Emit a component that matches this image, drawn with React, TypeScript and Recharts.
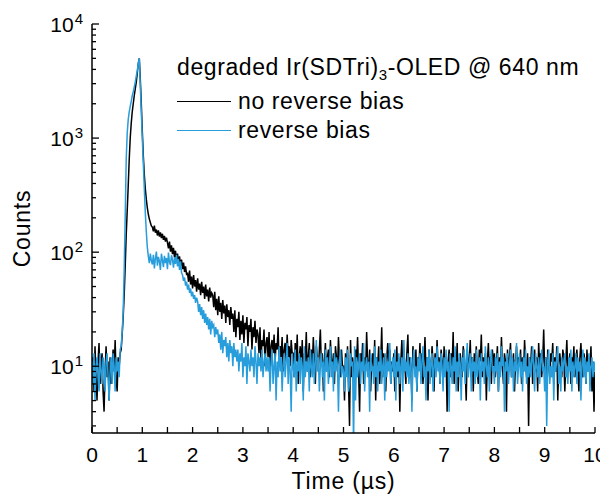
import React from 'react';
import { LineChart, Line, XAxis, YAxis, Legend, Label } from 'recharts';

const FONT = '"Liberation Sans", Arial, Helvetica, sans-serif';
const BLACK = '#000000';
const BLUE = '#289ddb';

// channel width of the decay traces, in µs
const STEP = 0.02;

// counts, no reverse bias (t = 0 ... 10 µs)
const noBias = [
  9, 12, 6, 15, 8, 5, 11, 16, 7, 10, 13, 6, 4, 9, 15, 8, 11, 5, 12, 7, 10, 14, 9, 17, 8, 6, 12, 10, 13,
  14, 19, 27, 42, 75, 140, 230, 380, 650, 1000, 1350, 1700, 2000, 2350, 2700, 3100, 3700, 4500, 5000, 3300,
  2000, 1150, 700, 480, 360, 290, 245, 215, 195, 182, 170,
  166, 152, 171, 148, 158, 140, 155, 137, 149, 133, 145, 128, 139, 124, 134,
  121, 108, 124, 101, 115, 96, 109, 90, 103, 85, 97, 80, 92, 76, 86, 71, 81, 67, 75, 64,
  65, 55, 69, 52, 61, 48, 63, 50, 57, 45, 59, 47, 53, 42, 55, 44, 50, 39, 52, 41, 47, 37, 49, 40, 44,
  42, 33, 45, 31, 39, 28, 41, 30, 36, 26, 38, 29, 34, 24, 35, 27, 31, 23, 33, 26,
  29, 20, 31, 18, 26, 22, 30, 17, 25, 19, 28, 16, 24, 21, 27, 15, 23, 20, 26, 14, 22, 18, 25, 16, 21,
  19, 13, 22, 11, 17, 15, 21, 10, 16, 18, 12, 20, 9, 15, 17, 13, 19, 11, 16, 14, 22, 10, 15, 12, 18,
  9, 14, 16, 11, 19, 12, 15, 10, 17, 13,
  13, 8, 16, 11, 19, 7, 12, 15, 10, 17, 6, 13, 11, 20, 9, 12, 16, 8, 14, 10,
  18, 11, 7, 15, 12, 9, 14, 21, 10, 13, 6, 11, 16, 9, 12, 14, 8, 17, 11, 10,
  13, 7, 15, 12, 9, 18, 11, 8, 14, 10,
  10, 5, 13, 9, 15, 7, 3, 17, 8, 12, 10, 6, 14, 11, 18, 9, 4, 13, 10, 16, 7, 12, 9, 20, 11,
  8, 14, 6, 11, 13, 9, 17, 5, 12, 10, 15, 7, 11, 22, 8, 13, 9, 6, 12, 16, 10, 14, 7, 11, 9,
  13, 6, 10, 15, 8, 12, 4, 11, 17, 9, 14, 10, 7, 13, 19, 8, 12, 10, 5, 15, 11, 9, 14, 6, 12,
  10, 16, 8, 13, 7, 11, 18, 9, 12, 5, 14, 10, 8, 15, 11, 6, 13, 9, 17, 10, 12, 7, 14, 11, 8,
  15, 9, 12, 4, 11, 14, 8, 13, 10, 20, 7, 12, 9, 16, 6, 11, 13, 10, 8, 15, 12, 9, 5, 14, 10,
  11, 17, 8, 12, 6, 13, 10, 15, 9, 7, 14, 11, 19, 8, 12, 10, 13, 5, 11, 16, 9, 12, 7, 14, 10,
  13, 8, 11, 15, 6, 12, 9, 18, 10, 7, 13, 11, 4, 14, 9, 12, 16, 8, 10, 13, 6, 11, 15, 9, 12,
  10, 14, 7, 12, 9, 17, 11, 8, 13, 3, 12, 10, 15, 7, 11, 14, 9, 12, 6, 16, 10, 13, 8, 11, 21,
  9, 12, 6, 14, 10, 8, 13, 11, 16, 7, 12, 9, 15, 5, 11, 13, 10, 8, 14, 12, 6, 11, 17, 9, 10,
  13, 7, 12, 10, 15, 8, 11, 14, 9, 6, 12, 16, 10, 8, 13, 11, 7, 14, 9, 12, 10, 15, 6, 11, 4,
  9,
];

// counts, reverse bias (t = 0 ... 10 µs)
const reverseBias = [
  11, 7, 13, 5, 10, 12, 8, 6, 13, 9, 7, 12, 10, 6, 11, 13, 8, 5, 9, 12, 7, 13, 10, 6, 12, 9, 11, 8, 14,
  15, 20, 30, 70, 200, 650, 1100, 1450, 1700, 1900, 2100, 2350, 2550, 2800, 3100, 3500, 3900, 4500, 5000, 2900,
  1700, 1000, 600, 360, 220, 150, 110, 92, 80, 97, 84,
  78, 95, 72, 88, 101, 76, 91, 83, 70, 97, 85, 74, 93, 80, 89, 71, 99, 82, 77, 94, 86, 73, 90, 79, 95,
  75, 87, 70, 83, 66,
  63, 56, 60, 51, 55, 47, 52, 44, 48, 41, 45, 39, 42, 36, 40,
  37, 30, 35, 28, 33, 26, 31, 24, 29, 23, 27, 21, 26, 19, 25, 22, 23, 18, 22, 19,
  21, 16, 19, 14, 20, 13, 17, 15, 18, 12, 16, 11, 17, 13, 15, 10, 16, 12, 14, 11,
  14, 9, 13, 11, 16, 8, 12, 10, 15, 7, 13, 11, 9, 14, 10, 12, 8, 15, 11, 7, 13, 10, 12, 9, 14,
  8, 11, 13, 9, 12,
  9, 12, 6, 11, 14, 7, 10, 13, 5, 11, 8, 15, 9, 12, 6, 10, 13, 8, 11, 16, 7, 12, 9, 4, 13,
  10, 8, 14, 6, 11, 9, 13, 7, 12, 10, 5, 15, 8, 11, 9, 12, 6, 14, 10, 8, 13, 7, 11, 17, 9,
  12, 6, 10, 13, 8, 11, 5, 14, 9, 12, 7, 10, 15, 8, 11, 6, 13, 9, 12, 10, 4, 11, 14, 8, 10,
  9, 6, 12, 8, 14, 6, 7, 13, 10, 11, 2, 15, 5, 12, 8, 10, 13, 7, 11, 9, 16, 6, 10, 12, 8,
  11, 4, 13, 9, 10, 7, 15, 8, 12, 6, 11, 9, 14, 7, 10, 12, 5, 13, 8, 11, 9, 16, 7, 10, 12,
  8, 14, 5, 11, 9, 13, 7, 10, 12, 6, 17, 9, 11, 8, 13, 7, 10, 12, 4, 11, 14, 8, 10, 6, 12,
  9, 13, 7, 11, 15, 8, 10, 5, 12, 9, 14, 7, 11, 13, 6, 10, 12, 8, 15, 9, 11, 7, 13, 10, 6,
  12, 8, 14, 9, 11, 4, 13, 10, 7, 12, 9, 15, 6, 11, 8, 13, 10, 5, 12, 9, 14, 7, 11, 16, 8,
  10, 13, 6, 12, 9, 11, 7, 14, 8, 10, 12, 5, 13, 9, 11, 7, 15, 10, 8, 12, 6, 11, 14, 9, 10,
  7, 12, 9, 13, 6, 11, 8, 15, 10, 12, 4, 11, 9, 13, 7, 10, 14, 8, 12, 6, 11, 9, 16, 7, 10,
  13, 8, 11, 6, 12, 9, 14, 7, 10, 8, 12, 8, 11, 15, 9, 6, 13, 10, 8, 12, 7, 11, 14, 9, 10,
  6, 12, 3, 11, 14, 7, 10, 8, 13, 5, 11, 9, 12, 15, 7, 10, 6, 12, 9, 11, 13, 8, 10, 7, 12,
  9, 14, 6, 11, 8, 10, 13, 7, 12, 9, 11, 5, 10, 14, 8, 12, 7, 11, 9, 13, 6, 10, 12, 8, 11,
  9,
];

const seriesNames = ['no reverse bias', 'reverse bias'];
const titleParts = ['degraded Ir(SDTri)', '3', '-OLED @ 640 nm'];

const xTicks = [0, 0.5, 1, 1.5, 2, 2.5, 3, 3.5, 4, 4.5, 5, 5.5, 6, 6.5, 7, 7.5, 8, 8.5, 9, 9.5, 10];
const yTicks = [
  3, 4, 5, 6, 7, 8, 9, 10, 20, 30, 40, 50, 60, 70, 80, 90, 100,
  200, 300, 400, 500, 600, 700, 800, 900, 1000,
  2000, 3000, 4000, 5000, 6000, 7000, 8000, 9000, 10000,
];
const yDecades = [10, 100, 1000, 10000];
const yExponents = ['1', '2', '3', '4'];

const data = noBias.map((v, i) => ({
  t: i * STEP,
  noBias: v,
  reverseBias: reverseBias[i],
}));

const TICK_W = 1.3;

const BottomTick = (props: any) => {
  const { x, y, payload } = props;
  const v = payload.value;
  return (
    <g>
      <line x1={x} y1={y} x2={x} y2={y - 6} stroke={BLACK} strokeWidth={TICK_W} />
      {Number.isInteger(v) && (
        <text x={x} y={y + 29} textAnchor="middle" fontSize={21} fontFamily={FONT} fill={BLACK}>
          {v}
        </text>
      )}
    </g>
  );
};

const TopTick = (props: any) => {
  const { x, y } = props;
  return <line x1={x} y1={y} x2={x} y2={y + 6} stroke={BLACK} strokeWidth={TICK_W} />;
};

const LeftTick = (props: any) => {
  const { x, y, payload } = props;
  const k = yDecades.indexOf(payload.value);
  const len = k >= 0 ? 7 : 4;
  return (
    <g>
      <line x1={x} y1={y} x2={x + len} y2={y} stroke={BLACK} strokeWidth={TICK_W} />
      {k >= 0 && (
        <text x={x - 9} y={y + 8} textAnchor="end" fontSize={21} fontFamily={FONT} fill={BLACK}>
          10
          <tspan dx={1} dy={-8} fontSize={15}>
            {yExponents[k]}
          </tspan>
        </text>
      )}
    </g>
  );
};

const RightTick = (props: any) => {
  const { x, y, payload } = props;
  const len = yDecades.includes(payload.value) ? 7 : 4;
  return <line x1={x} y1={y} x2={x - len} y2={y} stroke={BLACK} strokeWidth={TICK_W} />;
};

const LegendBox = (props: any) => {
  const items = props.payload || [];
  return (
    <div style={{ fontFamily: FONT, fontSize: 23, letterSpacing: 0.6, color: BLACK, textAlign: 'left' }}>
      <div style={{ height: 33, lineHeight: '29px', whiteSpace: 'nowrap' }}>
        {titleParts[0]}
        <span style={{ fontSize: 15, verticalAlign: -5 }}>{titleParts[1]}</span>
        {titleParts[2]}
      </div>
      {items.map((it: any, k: number) => (
        <div
          key={k}
          style={{
            height: k === 0 ? 30 : 29,
            lineHeight: '29px',
            display: 'flex',
            alignItems: 'center',
            whiteSpace: 'nowrap',
          }}
        >
          <span
            style={{
              display: 'inline-block',
              width: 54,
              height: 0,
              borderTop: `1.5px solid ${it.color}`,
              marginRight: 7,
            }}
          />
          {it.value}
        </div>
      ))}
    </div>
  );
};

const axisLine = { stroke: BLACK, strokeWidth: 1.5 };

export default function App() {
  return (
    <LineChart width={600} height={486} data={data} margin={{ top: 16, right: 13, bottom: 0, left: 0 }}>
      <XAxis
        xAxisId="bottom"
        dataKey="t"
        type="number"
        domain={[0, 10]}
        ticks={xTicks}
        interval={0}
        allowDataOverflow
        height={61}
        tickSize={0}
        tickMargin={0}
        tickLine={false}
        axisLine={axisLine}
        tick={(p: any) => <BottomTick {...p} />}
      >
        <Label
          content={(p: any) => {
            const vb = p.viewBox;
            return (
              <text
                x={vb.x + vb.width / 2}
                y={vb.y + 56}
                textAnchor="middle"
                fontSize={23}
                letterSpacing={0.8}
                fontFamily={FONT}
                fill={BLACK}
              >
                Time (µs)
              </text>
            );
          }}
        />
      </XAxis>
      <XAxis
        xAxisId="top"
        orientation="top"
        dataKey="t"
        type="number"
        domain={[0, 10]}
        ticks={xTicks}
        interval={0}
        allowDataOverflow
        height={0}
        tickSize={0}
        tickMargin={0}
        tickLine={false}
        axisLine={axisLine}
        tick={(p: any) => <TopTick {...p} />}
      />
      <YAxis
        yAxisId="left"
        type="number"
        scale="log"
        domain={[2.6, 10000]}
        ticks={yTicks}
        interval={0}
        allowDataOverflow
        width={84}
        tickSize={0}
        tickMargin={0}
        tickLine={false}
        axisLine={axisLine}
        tick={(p: any) => <LeftTick {...p} />}
      >
        <Label
          content={(p: any) => {
            const vb = p.viewBox;
            const cx = vb.x + 14;
            const cy = vb.y + vb.height / 2;
            return (
              <text
                x={cx}
                y={cy}
                transform={`rotate(-90, ${cx}, ${cy})`}
                textAnchor="middle"
                dominantBaseline="central"
                fontSize={23}
                letterSpacing={0.8}
                fontFamily={FONT}
                fill={BLACK}
              >
                Counts
              </text>
            );
          }}
        />
      </YAxis>
      <YAxis
        yAxisId="right"
        orientation="right"
        type="number"
        scale="log"
        domain={[2.6, 10000]}
        ticks={yTicks}
        interval={0}
        allowDataOverflow
        width={0}
        tickSize={0}
        tickMargin={0}
        tickLine={false}
        axisLine={axisLine}
        tick={(p: any) => <RightTick {...p} />}
      />
      <Legend
        layout="vertical"
        align="center"
        verticalAlign="middle"
        content={(p: any) => <LegendBox {...p} />}
        wrapperStyle={{ position: 'absolute', left: 169, top: 45, width: 'auto', height: 'auto' }}
      />
      <Line
        xAxisId="bottom"
        yAxisId="left"
        dataKey="noBias"
        name={seriesNames[0]}
        stroke={BLACK}
        strokeWidth={1.5}
        dot={false}
        activeDot={false}
        legendType="line"
        isAnimationActive={false}
      />
      <Line
        xAxisId="bottom"
        yAxisId="left"
        dataKey="reverseBias"
        name={seriesNames[1]}
        stroke={BLUE}
        strokeWidth={1.5}
        dot={false}
        activeDot={false}
        legendType="line"
        isAnimationActive={false}
      />
    </LineChart>
  );
}
